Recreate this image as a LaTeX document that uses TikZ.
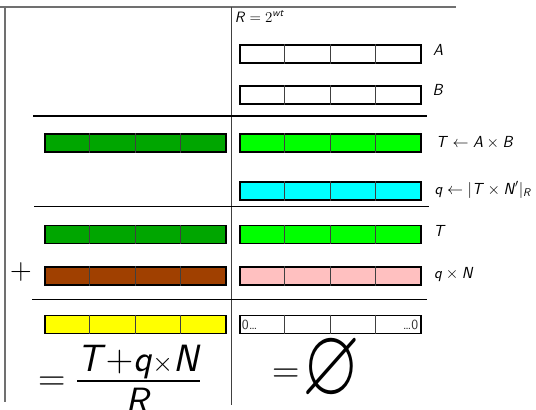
\RequirePackage{fix-cm}
\documentclass[tikz,border=0pt]{standalone}
\usepackage{amsmath,amssymb}
\usetikzlibrary{calc}

\definecolor{gdark}{RGB}{0,166,0}
\definecolor{glight}{RGB}{0,255,0}
\definecolor{qcyan}{RGB}{0,255,255}
\definecolor{qnbrown}{RGB}{160,64,0}
\definecolor{qnpink}{RGB}{255,192,192}
\definecolor{ryellow}{RGB}{255,255,0}
\definecolor{framegray}{RGB}{112,112,112}

\newcommand{\sv}[1]{\textsf{\textit{#1}}}
% one register of four words
\newcommand{\regbox}[4]{%
  \node[reg, fill=#4] (#1) at (#2,#3) {};
  \foreach \k in {1,2,3}
    \draw[cellsep] ($(#1.north west)!\k/4!(#1.north east)$) -- ($(#1.south west)!\k/4!(#1.south east)$);
}

\begin{document}
\begin{tikzpicture}[x=1pt,y=-1pt,
  reg/.style={draw,line width=1.8pt,minimum width=181pt,minimum height=18pt,inner sep=0pt,anchor=north west},
  cellsep/.style={line width=0.9pt,black!75},
  lab/.style={anchor=base west,inner sep=0pt,font=\fontsize{16}{19}\selectfont},
  big/.style={anchor=base west,inner sep=0pt,font=\fontsize{38}{40}\selectfont},
  frame/.style={line width=2pt,framegray},
  rule/.style={line width=1.7pt}]
\useasboundingbox (0,0) rectangle (536,410);

% frame
\draw[frame] (0,6.5) -- (456,6.5);
\draw[frame] (4.7,6.5) -- (4.7,402);
\draw[line width=1.2pt,black!75] (231.7,6.5) -- (231.7,405);

\node[lab,font=\fontsize{15}{18}\selectfont] (rdef) at (234.6,22) {$\sv{R}=2^{\sv{wt}}$};

% inputs
\regbox{a}{238.7}{44.3}{white}
\regbox{b}{238.7}{85.3}{white}
\node[lab] (la) at (433,55) {$\sv{A}$};
\node[lab] (lb) at (432.5,95.5) {$\sv{B}$};
\draw[rule] (33,116) -- (427,116);

% product and quotient
\regbox{thi}{43.8}{133.3}{gdark}
\regbox{tlo}{238.7}{133.3}{glight}
\regbox{q}{238.7}{181}{qcyan}
\node[lab] (lt) at (436,147.5) {$\sv{T}\leftarrow\sv{A}\times\sv{B}$};
\node[lab] (lq) at (434.5,194) {$\sv{q}\leftarrow\lvert\sv{T}\times\sv{N}'\rvert_{\sv{R}}$};
\draw[rule] (34,206.5) -- (428.5,206.5);

% sum
\regbox{thi2}{43.8}{224.5}{gdark}
\regbox{tlo2}{238.7}{224.5}{glight}
\regbox{qnhi}{43.8}{265.8}{qnbrown}
\regbox{qnlo}{238.7}{265.8}{qnpink}
\node[lab] (lt2) at (433.5,236.5) {$\sv{T}$};
\node[lab] (lqn) at (434,278.5) {$\sv{q}\times\sv{N}$};
\node[inner sep=0pt,font=\fontsize{30}{30}\selectfont] (plus) at (21,272) {$+$};
\draw[rule] (32,299.5) -- (427,299.5);

% result
\regbox{res}{43.8}{314.6}{ryellow}
\regbox{zero}{238.7}{314.6}{white}
\node[anchor=west,inner sep=3pt,font=\fontsize{14}{14}\selectfont\sffamily,black!80] (z0) at (zero.west) {0\ldots};
\node[anchor=east,inner sep=3pt,font=\fontsize{14}{14}\selectfont\sffamily,black!80] (z1) at (zero.east) {\ldots0};

\node[big] (frac) at (38,390.3)
  {$=\frac{\textstyle\sv{T}{+}\sv{q}{\scriptstyle\times}\sv{N}}{\textstyle\raisebox{-11pt}[0pt][0pt]{\sv{R}}}$};
\node[big] (eqz) at (272,382.5) {$=$};
\node[inner sep=0pt] (nul) at (331,370) {\scalebox{1.2}[1.55]{\fontsize{62}{62}\selectfont$\varnothing$}};
\end{tikzpicture}
\end{document}
